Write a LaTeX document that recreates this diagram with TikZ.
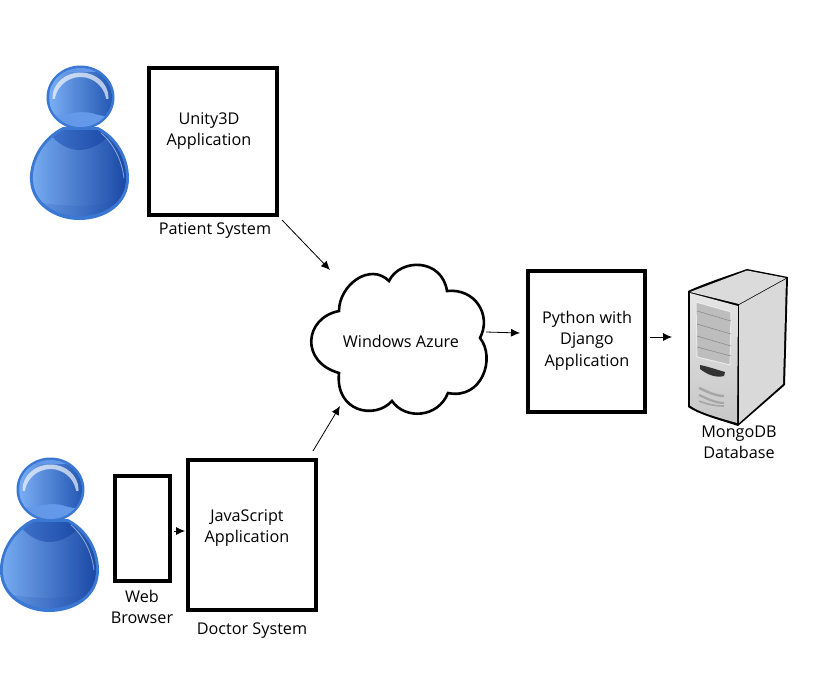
\documentclass[tikz,border=0pt]{standalone}
\usepackage{fontspec}
\setmainfont{Open Sans}
\usetikzlibrary{arrows.meta}
\definecolor{pedge}{HTML}{3A78D4}
\definecolor{plight}{HTML}{78ACF2}
\definecolor{pmid}{HTML}{6499EA}
\definecolor{pdark}{HTML}{2458B4}
\definecolor{pdeep}{HTML}{1746A4}
\tikzset{
  x=1pt,y=-1pt,
  boxnode/.style={draw=black,line width=3.8pt,fill=white,outer sep=0pt,inner sep=0pt,anchor=north west},
  lbl/.style={font=\fontsize{16.2pt}{21.3pt}\selectfont,align=center,inner sep=0pt,text=black},
  conn/.style={draw=black,line width=0.8pt,-{Latex[length=9pt,width=8pt]}},
}
\newcommand{\personfig}[2]{%
\begin{scope}[shift={(#1,#2)}]
  % body
  \path[fill=pedge] (63,127) .. controls (42,137) and (29,160) .. (30,180)
     .. controls (31,205) and (55,220) .. (79,220)
     .. controls (105,220) and (129,205) .. (129,178)
     .. controls (129,158) and (118,137) .. (98,127) -- cycle;
  \begin{scope}
    \clip (64,130) .. controls (44,140) and (32,160) .. (33,180)
     .. controls (34,203) and (56,216) .. (79,216)
     .. controls (104,216) and (126,203) .. (126,178)
     .. controls (126,158) and (115,139) .. (97,130) -- cycle;
    \shade[left color=plight,middle color=plight!80!pmid,right color=pdeep] (30,125) rectangle (129,222);
    \shade[left color=pmid!45!pdark,right color=pdeep] (44,125) .. controls (54,143) and (68,150) .. (79,150)
       .. controls (92,150) and (106,143) .. (116,125) -- cycle;
    \fill[pdark,opacity=.2] (30,200) .. controls (60,208) and (100,208) .. (129,198) -- (129,222) -- (30,222) -- cycle;
  \end{scope}
  \draw[white,opacity=.5,line width=.8pt] (101,133) .. controls (113,143) and (122,160) .. (124,178);
  % head
  \fill[pedge] (80.5,97.5) ellipse [x radius=34,y radius=32];
  \begin{scope}
    \clip (80.5,97.5) ellipse [x radius=31.5,y radius=29.5];
    \fill[pmid] (45,65) rectangle (116,130);
    \shade[left color=plight,right color=pdark] (50,72) -- (112,72)
       -- (112,117) .. controls (98,116) and (92,112) .. (84,112)
       .. controls (70,112) and (60,118) .. (50,114) -- cycle;
    \begin{scope}
      \clip (45,65) rectangle (116,98);
      \path[fill=white,opacity=.65,even odd rule] (80.5,97.5) ellipse [x radius=28,y radius=25]
         (80.5,103) ellipse [x radius=26,y radius=26];
    \end{scope}
  \end{scope}
\end{scope}}
\begin{document}
\begin{tikzpicture}
\useasboundingbox (0,0) rectangle (840,680);
\fill[white] (0,0) rectangle (840,680);

\personfig{0}{0}
\personfig{-30}{392}

% boxes
\node[boxnode,minimum width=128pt,minimum height=147pt] (unity) at (149,68) {};
\node[boxnode,minimum width=128pt,minimum height=150pt] (jsapp) at (188,460) {};
\node[boxnode,minimum width=55pt,minimum height=105pt] (web) at (115,476) {};
\node[boxnode,minimum width=117pt,minimum height=141pt] (python) at (528,271) {};

\node[lbl] (unitytxt) at (209,131) {Unity3D\\Application};
\node[lbl] (patient) at (215,230) {Patient System};
\node[lbl] (jstxt) at (247,528) {JavaScript\\Application};
\node[lbl] (webtxt) at (142,607) {Web\\Browser};
\node[lbl] (doctor) at (252,631) {Doctor System};
\node[lbl] (pytxt) at (587,340.5) {Python with\\Django\\Application};

% cloud
\path[draw=black,fill=white,line width=2.6pt,line join=miter]
  (339,311) .. controls (339,285) and (370,262) .. (389,281)
  .. controls (400,258) and (442,258) .. (447,291)
  .. controls (475,288) and (492,315) .. (480,338)
  .. controls (496,358) and (482,400) .. (448,393)
  .. controls (438,418) and (405,420) .. (392,401)
  .. controls (375,420) and (335,412) .. (339,373)
  .. controls (300,362) and (304,318) .. (339,311) -- cycle;
\node[lbl] (azure) at (401,341) {Windows Azure};

% server
\begin{scope}[line join=round]
  \path[fill=black] (688,291) .. controls (705,283) and (730,275) .. (747,269)
     -- (788,277) -- (785,385) -- (738,426) .. controls (720,420) and (700,415) .. (688,407) -- cycle;
  \fill[white!86!black] (690,292) -- (747,270.5) -- (786,278) -- (739,304) -- cycle;
  \fill[white!85!black] (739,305) -- (786,279) -- (783,384) -- (739,423) -- cycle;
  \shade[top color=white!90!black,bottom color=white!78!black] (690,293) -- (738,306) -- (737,423) .. controls (720,418) and (700,413) .. (690,405.5) -- cycle;
  \fill[white!74!black,draw=white!92!black,line width=1pt] (696,302) -- (731,312) -- (730,365) -- (697,357) -- cycle;
  \foreach \a/\b in {311/321,324/334,336/346,347/356}
    \draw[white!55!black,line width=.6pt] (697,\a) -- (731,\b);
  \path[fill=black!80] (700,365) .. controls (706,366) and (718,370) .. (725,372) -- (724,376) .. controls (716,378) and (708,375) .. (700,369) -- cycle;
  \foreach \a/\b/\w in {388/396/2.4,395/403/2.2,401/406/1.6}
    \draw[white!65!black,line width=\w pt] (699,\a) .. controls (706,\a+3) and (715,\b) .. (724,\b);
\end{scope}
\node[lbl] (mongo) at (739,442) {MongoDB\\Database};

% connectors
\coordinate (c1a) at (282,220); \coordinate (c1b) at (330,270);
\coordinate (c2a) at (313,451); \coordinate (c2b) at (340,406);
\coordinate (c3a) at (486,332); \coordinate (c3b) at (520,333);
\coordinate (c4a) at (650,337); \coordinate (c4b) at (672,337);
\coordinate (c5a) at (174,531); \coordinate (c5b) at (185,531);
\draw[conn] (c1a) -- (c1b);
\draw[conn] (c2a) -- (c2b);
\draw[conn] (c3a) -- (c3b);
\draw[conn] (c4a) -- (c4b);
\draw[conn] (c5a) -- (c5b);
\end{tikzpicture}
\end{document}
